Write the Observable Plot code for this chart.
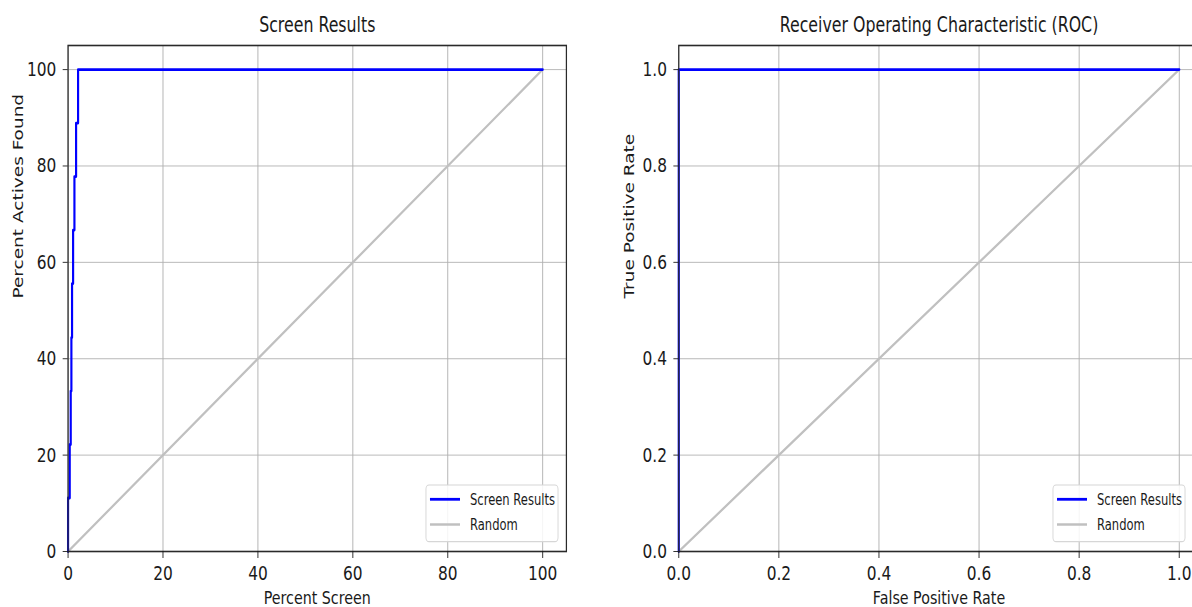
<!DOCTYPE html>
<html><head><meta charset="utf-8">
<script src="https://cdn.jsdelivr.net/npm/d3@7"></script>
<script src="https://cdn.jsdelivr.net/npm/@observablehq/plot@0.6"></script>
<style>
html,body{margin:0;padding:0;background:#fff;overflow:hidden;width:1192px;height:607px;}
#wrap{position:absolute;left:0;top:0;width:1700px;height:607px;transform:scaleX(0.77);transform-origin:0 0;}
#wrap svg{position:absolute;top:0;overflow:visible;}
</style></head><body><div id="wrap"></div>
<script>
// ---- data ----
const screenPct  = [0, 0, 0.35, 0.56, 0.70, 0.84, 1.06, 1.34, 1.69, 2.11, 100];
const activesPct = [0, 11.1, 22.2, 33.3, 44.4, 55.6, 66.7, 77.8, 88.9, 100, 100];
const randomPct  = [0, 100];
const fpr = [0, 0, 1];
const tpr = [0, 1, 1];
const randomRate = [0, 1];
const pctTicks  = [0, 20, 40, 60, 80, 100];
const rateTicks = [0, 0.2, 0.4, 0.6, 0.8, 1.0];
const seriesNames  = ["Screen Results", "Random"];
const seriesColors = ["#0000ff", "#c0c0c0"];
const titles  = ["Screen Results", "Receiver Operating Characteristic (ROC)"];
const xLabels = ["Percent Screen", "False Positive Rate"];
const yLabels = ["Percent Actives Found", "True Positive Rate"];

function panel(o) {
  const curve = o.xs.map((x, i) => ({x, y: o.ys[i]}));
  const rand = o.rx.map((x) => ({x, y: x}));
  const svg = Plot.plot({
    width: o.width, height: 607,
    marginLeft: o.ml, marginRight: o.mr, marginTop: 45, marginBottom: 56,
    style: {fontFamily: "DejaVu Sans", color: "#1a1a1a", background: "transparent", overflow: "visible"},
    x: {domain: o.xDomain},
    y: {domain: o.yDomain},
    marks: [
      Plot.gridX(o.ticks, {stroke: "#b0b0b0", strokeOpacity: 1, strokeWidth: 1.2}),
      Plot.gridY(o.ticks, {stroke: "#b0b0b0", strokeOpacity: 1, strokeWidth: 1}),
      Plot.line(rand, {x: "x", y: "y", stroke: seriesColors[1], strokeWidth: 2.5}),
      Plot.line(curve, {x: "x", y: "y", stroke: seriesColors[0], strokeWidth: 2.8, curve: "step-after"}),
      Plot.frame({stroke: "#2a2a2a", strokeWidth: 1.6}),
      Plot.axisX(o.ticks, {tickSize: 7, tickPadding: 7, fontSize: 20, label: null, tickFormat: o.fmt}),
      Plot.axisY(o.ticks, {tickSize: 6.5, tickPadding: 8.7, fontSize: 20, label: null, tickFormat: o.fmt}),
      Plot.text([o.title], {frameAnchor: "top", lineAnchor: "middle", dy: -19.6, fontSize: 20.5}),
      Plot.text([o.xLabel], {frameAnchor: "bottom", lineAnchor: "middle", dy: 46.5, fontSize: 18.5}),
      Plot.text([o.yLabel], {frameAnchor: "left", lineAnchor: "middle", dx: -64.5, rotate: -90, fontSize: 18.5})
    ]
  });
  // legend (lower right)
  const fr = o.width - o.mr;
  const bx1 = fr - o.legOff, bx0 = bx1 - 171.5;
  const g = d3.select(svg).append("g").attr("text-anchor", "start");
  g.append("rect").attr("x", bx0).attr("y", 485).attr("width", bx1 - bx0).attr("height", 56.7)
    .attr("rx", 4).attr("fill", "#fff").attr("fill-opacity", 0.85).attr("stroke", "#d6d6d6").attr("stroke-width", 1.2);
  seriesNames.forEach((name, i) => {
    const yy = 499.3 + i * 25.2;
    g.append("line").attr("x1", bx0 + 5.2).attr("x2", bx0 + 44.2).attr("y1", yy).attr("y2", yy)
      .attr("stroke", seriesColors[i]).attr("stroke-width", i === 0 ? 2.8 : 2.5);
    g.append("text").attr("x", bx0 + 57.2).attr("y", yy).attr("dy", "0.36em")
      .attr("text-anchor", "start").attr("font-size", 15).attr("fill", "#1a1a1a").text(name);
  });
  return svg;
}

const wrap = document.getElementById("wrap");
const left = panel({
  width: 770, ml: 87.9, mr: 34.9, xDomain: [0, 105], yDomain: [0, 105], legOff: 10.4,
  xs: screenPct, ys: activesPct, rx: randomPct, ticks: pctTicks, fmt: d3.format("d"),
  title: titles[0], xLabel: xLabels[0], yLabel: yLabels[0]
});
left.style.left = "0px";
wrap.appendChild(left);
const right = panel({
  width: 806, ml: 100, mr: 30, xDomain: [0, 1.04], yDomain: [0, 1.05], legOff: 18,
  xs: fpr, ys: tpr, rx: randomRate, ticks: rateTicks, fmt: d3.format(".1f"),
  title: titles[1], xLabel: xLabels[1], yLabel: yLabels[1]
});
right.style.left = "781.2px";
wrap.appendChild(right);
</script>
</body></html>
